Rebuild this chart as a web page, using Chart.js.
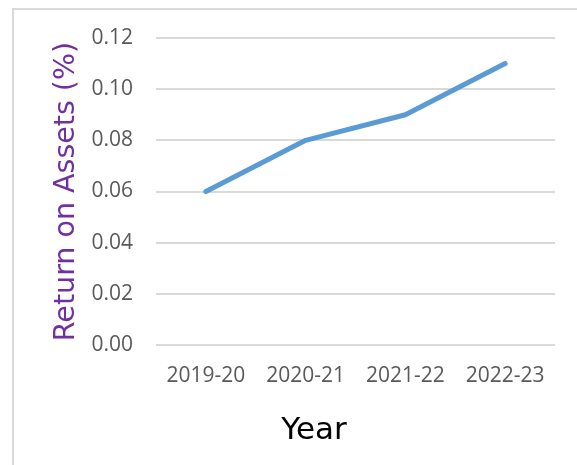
<!DOCTYPE html>
<html>
<head>
<meta charset="utf-8">
<script src="https://cdn.jsdelivr.net/npm/chart.js@4"></script>
<style>
  body { margin: 0; background: #fff; }
  #wrap { position: relative; width: 577px; height: 465px; overflow: hidden; }
  #frame { position: absolute; left: 12px; top: 8px; width: 620px; height: 520px; border: 2px solid #d9d9d9; box-sizing: border-box; }
  #xTitle { position: absolute; left: 214px; top: 413px; width: 200px; text-align: center; font: 31px/31px "DejaVu Sans", sans-serif; color: #000; }
  canvas { position: absolute; left: 0; top: 0; }
</style>
</head>
<body>
<div id="wrap">
  <div id="frame"></div>
  <canvas id="roaChart" width="577" height="465"></canvas>
  <div id="xTitle">Year</div>
</div>
<script>
// datos del gráfico
const years = ["2019-20", "2020-21", "2021-22", "2022-23"];
const roaValues = [0.06, 0.08, 0.09, 0.11];
const yTicks = [0, 0.02, 0.04, 0.06, 0.08, 0.10, 0.12];

const tickFont = { family: "'Open Sans', sans-serif", size: 21 };

new Chart(document.getElementById('roaChart'), {
    type: 'line',
    data: {
        labels: years,
        datasets: [{
            label: 'Return on Assets (%)',
            data: roaValues,
            borderColor: '#5b9bd5',
            borderWidth: 5,
            borderCapStyle: 'round',
            borderJoinStyle: 'round',
            pointRadius: 0,
            fill: false,
            tension: 0
        }]
    },
    options: {
        responsive: false,
        animation: false,
        layout: { padding: { top: 38, right: 22, left: 0, bottom: 0 } },
        plugins: { legend: { display: false }, tooltip: { enabled: false } },
        scales: {
            x: {
                offset: true,
                grid: { display: false, drawTicks: false },
                border: { display: false },
                ticks: { color: '#595959', font: tickFont, padding: 18, maxRotation: 0 },
                afterFit: (scale) => { scale.height = 120; }
            },
            y: {
                min: 0,
                max: 0.12,
                afterBuildTicks: (scale) => { scale.ticks = yTicks.map(v => ({ value: v })); },
                grid: { color: '#d9d9d9', lineWidth: 2, drawTicks: false },
                border: { display: false },
                ticks: {
                    color: '#595959',
                    font: tickFont,
                    padding: 23,
                    callback: (v) => v.toFixed(2)
                },
                title: {
                    display: true,
                    text: 'Return on Assets (%)',
                    color: '#7030a0',
                    font: { family: "'DejaVu Sans', sans-serif", size: 28.5 },
                    padding: { top: 49, bottom: 0 }
                },
                afterFit: (scale) => { scale.width = 156; }
            }
        }
    }
});
</script>
</body>
</html>
